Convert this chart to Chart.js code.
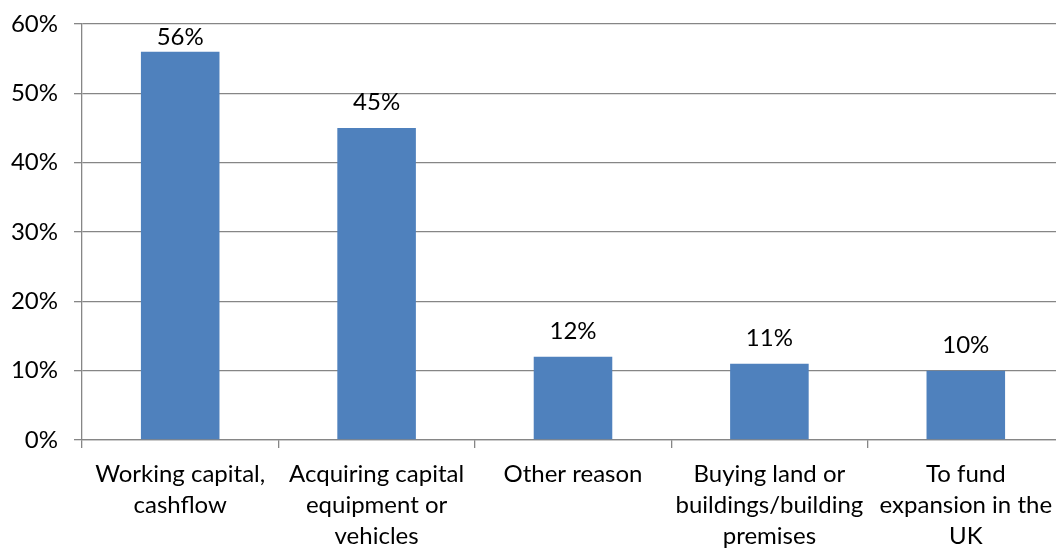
<!DOCTYPE html>
<html>
<head>
<meta charset="utf-8">
<script src="https://cdn.jsdelivr.net/npm/chart.js@4/dist/chart.umd.min.js"></script>
<style>
  html, body { margin: 0; padding: 0; background: #fff; overflow: hidden; }
  #wrap { width: 1056px; height: 550px; overflow: hidden; position: relative; }
  #box { width: 1064px; height: 550px; }
</style>
</head>
<body>
<div id="wrap"><div id="box"><canvas id="chart-reasons"></canvas></div></div>
<script>
// reasons for seeking finance, share of respondents (%)
const categories = [
    ['Working capital,', 'cashflow'],
    ['Acquiring capital', 'equipment or', 'vehicles'],
    ['Other reason'],
    ['Buying land or', 'buildings/building', 'premises'],
    ['To fund', 'expansion in the', 'UK']
];
const shares = [56, 45, 12, 11, 10];
const yTicks = [0, 10, 20, 30, 40, 50, 60];

const FONT = 'Lato, "Open Sans", sans-serif';
const GRID = '#868686';

// value labels drawn above each bar, kept inside the top of the plot
const barLabels = {
    id: 'barLabels',
    afterDatasetsDraw(chart) {
        const ctx = chart.ctx;
        const meta = chart.getDatasetMeta(0);
        const minBase = chart.chartArea.top + 21;
        ctx.save();
        ctx.font = '24px ' + FONT;
        ctx.fillStyle = '#000';
        ctx.textAlign = 'center';
        ctx.textBaseline = 'alphabetic';
        meta.data.forEach((bar, i) => {
            ctx.fillText(shares[i] + '%', bar.x, Math.max(bar.y - 18, minBase));
        });
        ctx.restore();
    }
};

new Chart(document.getElementById('chart-reasons'), {
    type: 'bar',
    data: {
        labels: categories,
        datasets: [{
            data: shares,
            backgroundColor: '#4F81BD',
            borderWidth: 0,
            categoryPercentage: 1,
            barPercentage: 0.4
        }]
    },
    options: {
        responsive: true,
        maintainAspectRatio: false,
        animation: false,
        layout: { padding: { top: 24, right: 0, left: 0, bottom: 0 } },
        scales: {
            y: {
                min: 0,
                max: 60,
                afterBuildTicks: (axis) => { axis.ticks = yTicks.map(v => ({ value: v })); },
                afterFit: (axis) => {
                    axis.width = 82;
                    // tick padding would otherwise push the plot top down
                    axis.paddingTop = 14;
                },
                grid: { color: GRID, lineWidth: 1.3, tickLength: 8 },
                border: { color: GRID, width: 1.3 },
                ticks: {
                    color: '#000',
                    padding: 16,
                    font: { family: FONT, size: 24 },
                    callback: (v) => v + '%'
                }
            },
            x: {
                afterFit: (axis) => { axis.height = 110; },
                grid: { offset: true, drawOnChartArea: false, color: GRID, lineWidth: 1.3, tickLength: 8 },
                border: { color: GRID, width: 1.3 },
                ticks: {
                    color: '#000',
                    padding: 11,
                    maxRotation: 0,
                    autoSkip: false,
                    font: { family: FONT, size: 24, lineHeight: 1.29 }
                }
            }
        },
        plugins: {
            legend: { display: false },
            tooltip: { enabled: false }
        }
    },
    plugins: [barLabels]
});
</script>
</body>
</html>
